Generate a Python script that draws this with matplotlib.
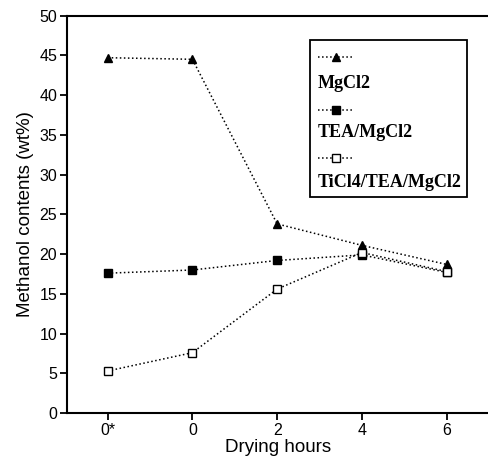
import matplotlib
matplotlib.use('Agg')
import matplotlib.pyplot as plt
from matplotlib.lines import Line2D
from matplotlib.patches import Rectangle

# Data
x_labels = ['0*', '0', '2', '4', '6']
mgcl2 = [44.7, 44.5, 23.8, 21.1, 18.7]
tea_mgcl2 = [17.6, 18.0, 19.2, 19.9, 17.7]
ticl4_tea_mgcl2 = [5.3, 7.6, 15.6, 20.2, 17.8]
series_names = ['MgCl2', 'TEA/MgCl2', 'TiCl4/TEA/MgCl2']

plt.rcParams['font.family'] = ['Liberation Sans', 'DejaVu Sans']

fig = plt.figure(figsize=(4.89, 4.58), dpi=100)
ax = fig.add_axes([0.137, 0.098, 0.863, 0.868])

x = list(range(len(x_labels)))
styles = [
    dict(marker='^', markerfacecolor='black', markersize=6),
    dict(marker='s', markerfacecolor='black', markersize=6),
    dict(marker='s', markerfacecolor='white', markersize=6),
]
for vals, st in zip([mgcl2, tea_mgcl2, ticl4_tea_mgcl2], styles):
    ax.plot(x, vals, color='black', linestyle=':', linewidth=1.1,
            markeredgecolor='black', markeredgewidth=1, **st)

ax.set_xlim(-0.48, 4.5)
ax.set_ylim(0, 50)
ax.set_yticks(range(0, 51, 5))
ax.set_xticks(x)
ax.set_xticklabels(x_labels)
ax.tick_params(axis='both', direction='out', length=5, width=1.3,
               labelsize=11.5, colors='black', pad=2)
ax.set_xlabel('Drying hours', fontsize=13.5, labelpad=1)
ax.set_ylabel('Methanol contents (wt%)', fontsize=13.5, labelpad=4)

ax.spines['right'].set_visible(False)
for s in ['left', 'top', 'bottom']:
    ax.spines[s].set_linewidth(1.5)

# Legend box with handle above each label
ax.add_patch(Rectangle((0.576, 0.543), 0.372, 0.395, transform=ax.transAxes,
                       fill=False, edgecolor='black', linewidth=1.3, zorder=5))
handle_y = [0.896, 0.762, 0.641]
label_y = [0.830, 0.707, 0.579]
for name, st, hy, ly in zip(series_names, styles, handle_y, label_y):
    ax.add_line(Line2D([0.595, 0.680], [hy, hy], transform=ax.transAxes,
                       color='black', linestyle=':', linewidth=1.1, zorder=6))
    ax.add_line(Line2D([0.637], [hy], transform=ax.transAxes, color='black',
                       markeredgecolor='black', markeredgewidth=1, zorder=6, **st))
    ax.text(0.595, ly, name, transform=ax.transAxes, fontsize=13,
            family='Liberation Serif', fontweight='bold', va='center', ha='left')

fig.savefig('out.png', dpi=100)
